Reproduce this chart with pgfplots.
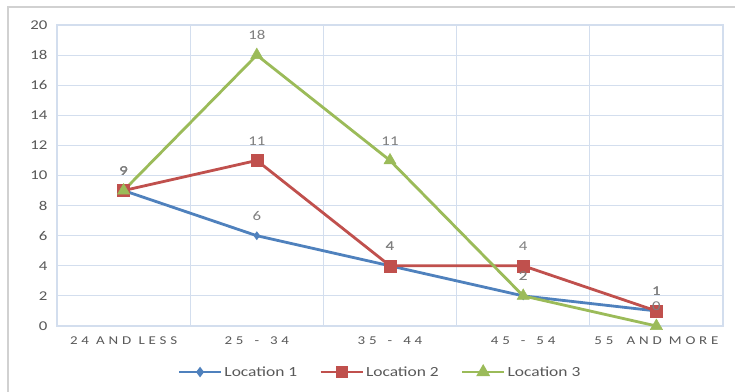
\documentclass[border=0pt]{standalone}
\usepackage{pgfplots}
\pgfplotsset{compat=1.18}
\usepackage{fontspec}
\setmainfont{Carlito}[FakeStretch=1.25]
\newfontfamily\spaced{Carlito}[FakeStretch=1.25,LetterSpace=32]
\definecolor{cA}{HTML}{4F81BD}
\definecolor{cB}{HTML}{C0504D}
\definecolor{cC}{HTML}{9BBB59}
\definecolor{gridc}{HTML}{D3DEEE}
\definecolor{txt}{HTML}{595959}
\definecolor{lbl}{HTML}{7F7F7F}
\begin{document}
\begin{tikzpicture}[x=1bp,y=1bp]
\useasboundingbox (0,0) rectangle (735,391);
\fill[white] (0,0) rectangle (735,391);
\draw[black!18, line width=1.2bp] (8,-2) -- (8,384) -- (737,384);
\begin{axis}[
  at={(57bp,65bp)}, anchor=south west,
  scale only axis, width=666bp, height=301bp,
  xmin=-0.5, xmax=4.5, ymin=0, ymax=20,
  ytick={0,2,...,20},
  xtick={0,1,2,3,4},
  xticklabels={24 AND LESS, 25\hspace{11bp}-\hspace{11bp}34, 35\hspace{11bp}-\hspace{11bp}44, 45\hspace{11bp}-\hspace{11bp}54, 55\hspace{6bp} AND MORE},
  minor xtick={0.5,1.5,2.5,3.5},
  xminorgrids, ymajorgrids,
  major grid style={gridc, line width=1bp},
  minor grid style={gridc, line width=1bp},
  axis line style={gridc, line width=1.2bp},
  major tick length=0pt, minor tick length=0pt,
  /pgf/number format/assume math mode=true,
  yticklabel style={font=\fontsize{13.5}{15}\selectfont, text=txt, xshift=-6bp},
  xticklabel style={font=\spaced\fontsize{12}{14}\selectfont, text=txt, yshift=-7bp},
  clip=false,
  nodes near coords,
  every node near coord/.style={anchor=south, inner sep=0pt, yshift=15bp, font=\fontsize{13.5}{15}\selectfont, text=lbl},
  legend style={at={(0.485,-0.153)}, anchor=center, draw=none, fill=none, legend columns=3,
     font=\fontsize{14}{15}\selectfont, text=txt,
     /tikz/every even column/.append style={column sep=20bp}},
  legend image code/.code={\draw[mark repeat=2,mark phase=2,mark options={scale=0.75}] plot coordinates {(0bp,0bp) (21bp,0bp) (42bp,0bp)};},
]
\addplot[cA, line width=2.8bp, mark=diamond*, mark size=4bp, mark options={fill=cA, draw=cA, line width=0.5bp}]
  coordinates {(0,9) (1,6) (2,4) (3,2) (4,1)};
\addlegendentry{Location 1}
\addplot[cB, line width=2.8bp, mark=square*, mark size=6bp, mark options={fill=cB, draw=cB, line width=0.5bp}]
  coordinates {(0,9) (1,11) (2,4) (3,4) (4,1)};
\addlegendentry{Location 2}
\addplot[cC, line width=2.8bp, mark=triangle*, mark size=7bp, mark options={fill=cC, draw=cC, line width=0.5bp}]
  coordinates {(0,9) (1,18) (2,11) (3,2) (4,0)};
\addlegendentry{Location 3}
\end{axis}
\end{tikzpicture}
\end{document}
